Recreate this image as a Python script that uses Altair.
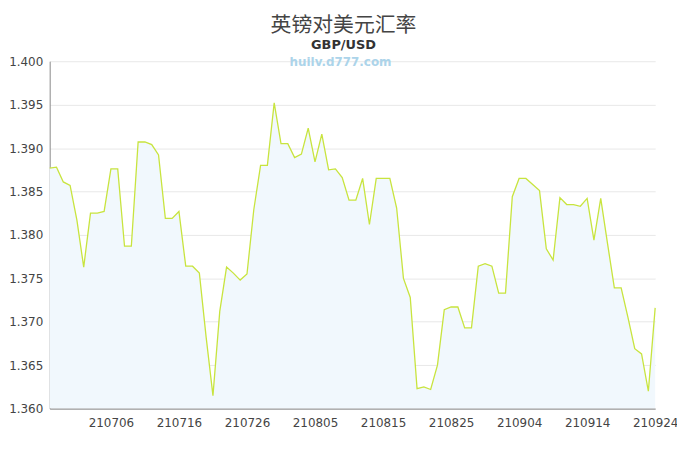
import altair as alt
import pandas as pd

dates = [d.strftime("%y%m%d") for d in pd.date_range("2021-06-27", "2021-09-24", freq="D")]
rates = [
    1.3877, 1.3878, 1.3861, 1.3857, 1.3817, 1.3763, 1.3825, 1.3825, 1.3827, 1.3876,
    1.3876, 1.3787, 1.3787, 1.3907, 1.3907, 1.3904, 1.3892, 1.3819, 1.3819, 1.3827,
    1.3764, 1.3764, 1.3756, 1.3682, 1.3615, 1.3712, 1.3763, 1.3756, 1.3748, 1.3755,
    1.3829, 1.3880, 1.3880, 1.3952, 1.3905, 1.3905, 1.3889, 1.3893, 1.3923, 1.3884,
    1.3916, 1.3875, 1.3876, 1.3866, 1.3840, 1.3840, 1.3865, 1.3812, 1.3865, 1.3865,
    1.3865, 1.3831, 1.3750, 1.3728, 1.3623, 1.3625, 1.3622, 1.3650, 1.3714, 1.3717,
    1.3717, 1.3693, 1.3693, 1.3764, 1.3767, 1.3764, 1.3733, 1.3733, 1.3844, 1.3865,
    1.3865, 1.3858, 1.3851, 1.3784, 1.3771, 1.3843, 1.3835, 1.3835, 1.3833, 1.3842,
    1.3794, 1.3842, 1.3790, 1.3739, 1.3739, 1.3705, 1.3669, 1.3663, 1.3620, 1.3716,
]
x_labels = dates[9::10]
y_ticks = [1.36, 1.365, 1.37, 1.375, 1.38, 1.385, 1.39, 1.395, 1.40]
y_min, y_max = 1.36, 1.40

df = pd.DataFrame({"date": dates, "rate": rates})

x = alt.X("date:O", sort=None, title=None,
          scale=alt.Scale(type="point", padding=0),
          axis=alt.Axis(values=x_labels, labelAngle=0, ticks=False, grid=False,
                        domainColor="#888888", labelColor="#444444", labelFont="DejaVu Sans",
                        labelFontSize=12, labelPadding=9, zindex=1))
y = alt.Y("rate:Q", title=None,
          scale=alt.Scale(domain=[y_min, y_max], zero=False, nice=False),
          axis=alt.Axis(values=y_ticks, format=".3f", ticks=False, grid=True,
                        gridColor="#e8e8e8", domainColor="#888888", labelColor="#444444",
                        labelFont="DejaVu Sans", labelFontSize=12, labelPadding=7))

base = alt.Chart(df)
area = base.mark_area(color="#f1f8fd", opacity=1).encode(x=x, y=y, y2=alt.datum(y_min))
line = base.mark_line(color="#c8e43e", strokeWidth=1.3).encode(x=x, y=y)
mark = alt.Chart(pd.DataFrame({"t": ["huilv.d777.com"]})).mark_text(
    font="DejaVu Sans", fontSize=12, fontWeight="bold", color="#acd4ea", baseline="middle"
).encode(text="t:N", x=alt.value(293), y=alt.value(1))

chart = (area + line + mark).properties(
    width=610, height=350,
    autosize=alt.AutoSizeParams(type="none"),
    padding={"left": 42, "top": 52, "right": 22, "bottom": 30},
    title=alt.TitleParams(
        text="英镑对美元汇率", subtitle="GBP/USD", anchor="middle", dx=-9,
        font="Noto Sans CJK SC", fontSize=21, fontWeight="normal", color="#444444",
        subtitleFont="DejaVu Sans", subtitleFontSize=13, subtitleFontWeight="bold",
        subtitleColor="#333333", subtitlePadding=3, offset=3,
    ),
).configure_view(stroke=None)

chart.save("out.html", embed_options={"renderer": "svg", "actions": False})
